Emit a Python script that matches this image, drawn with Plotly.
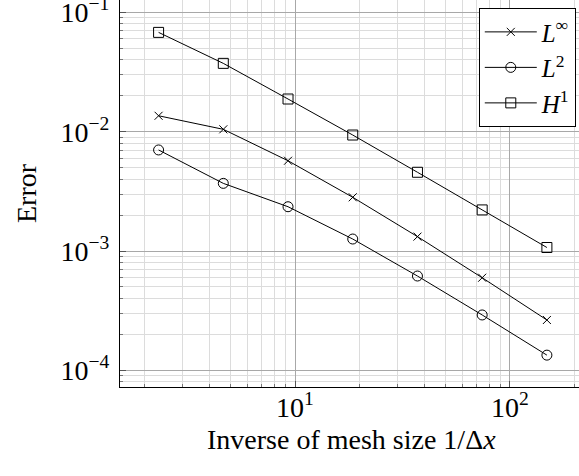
import plotly.graph_objects as go

inv_dx = [2.32, 4.64, 9.28, 18.56, 37.12, 74.24, 148.48]
err_linf = [0.0136, 0.01047, 0.00571, 0.00282, 0.00132, 0.000597, 0.000264]
err_l2 = [0.00703, 0.00369, 0.00235, 0.00126, 0.000617, 0.000291, 0.000134]
err_h1 = [0.068, 0.0374, 0.0188, 0.00938, 0.00457, 0.00221, 0.00107]

series_names = ["<i>L</i><sup>∞</sup>", "<i>L</i><sup>2</sup>", "<i>H</i><sup>1</sup>"]
series_symbols = ["x-thin-open", "circle-open", "square-open"]

x_major = [10, 100]
x_major_text = ["10<sup>1</sup>", "10<sup>2</sup>"]
y_major = [1e-4, 1e-3, 1e-2, 1e-1]
y_major_text = ["10<sup>−4</sup>", "10<sup>−3</sup>", "10<sup>−2</sup>", "10<sup>−1</sup>"]

x_minor = [m * 10 ** e for e in range(0, 3) for m in range(2, 10)]
y_minor = [m * 10.0 ** e for e in range(-5, 0) for m in range(2, 10)]

FONT = "Liberation Serif"
fig = go.Figure()
for name, sym, ys in zip(series_names, series_symbols, [err_linf, err_l2, err_h1]):
    fig.add_trace(go.Scatter(
        x=inv_dx, y=ys, name=name, mode="lines+markers",
        line=dict(color="black", width=1),
        marker=dict(symbol=sym, size=10 if sym != "x-thin-open" else 8,
                    color="black", line=dict(color="black", width=1)),
    ))

axis_common = dict(
    type="log", showline=True, linecolor="black", linewidth=1.3, mirror=False,
    ticks="inside", ticklen=6, tickcolor="#555555", tickwidth=1,
    showgrid=True, gridcolor="#a8a8a8", gridwidth=1, zeroline=False,
    tickfont=dict(family=FONT, size=28, color="black"),
    automargin=False, ticklabeloverflow="allow",
)

fig.update_xaxes(
    **axis_common, range=[0.186, 2.321], tickmode="array", tickvals=x_major, ticktext=x_major_text,
    minor=dict(tickvals=x_minor, showgrid=True, gridcolor="#dcdcdc", gridwidth=1,
               ticks="inside", ticklen=3, tickcolor="#777777"),
    ticklabelstandoff=-5,
)
fig.update_yaxes(
    **axis_common, range=[-4.14, -0.896], tickmode="array", tickvals=y_major, ticktext=y_major_text,
    minor=dict(tickvals=y_minor, showgrid=True, gridcolor="#dcdcdc", gridwidth=1,
               ticks="inside", ticklen=3, tickcolor="#777777"),
    ticklabelstandoff=4,
    title=dict(text="Error", font=dict(family=FONT, size=28, color="black"), standoff=15),
)

fig.add_annotation(
    text="Inverse of mesh size 1/Δ<i>x</i>", xref="paper", yref="paper",
    x=0.505, y=-0.09, xanchor="center", yanchor="top", showarrow=False,
    font=dict(family=FONT, size=28, color="black"),
)

fig.update_layout(
    width=579, height=476,
    margin=dict(l=120, r=0, t=0, b=89),
    plot_bgcolor="white", paper_bgcolor="white",
    font=dict(family=FONT, size=28, color="black"),
    legend=dict(x=0.993, y=0.979, xanchor="right", yanchor="top",
                bordercolor="black", borderwidth=1, bgcolor="white",
                font=dict(family=FONT, size=25), tracegroupgap=0, itemwidth=52),
    showlegend=True,
)

fig.write_html("out.html", config={"displayModeBar": False},
               post_script="document.body.style.margin='0px';")
